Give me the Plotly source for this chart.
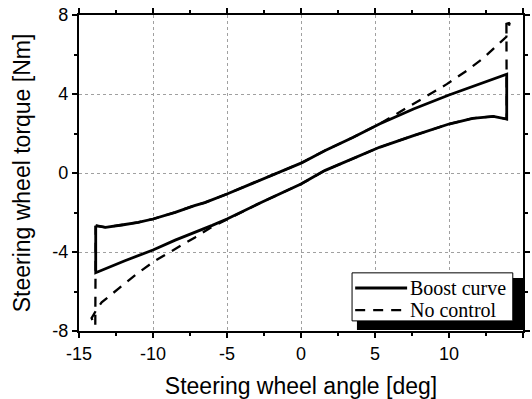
import plotly.graph_objects as go

# Boost curve hysteresis loop: upper branch (left -> right), then lower branch
boost_upper_x = [-13.87, -13.2, -12.0, -11.0, -10.0, -8.5, -7.2, -6.5, -5.0, -3.5,
                 -1.76, 0.0, 1.6, 3.5, 5.3, 7.6, 10.0, 12.1, 13.9]
boost_upper_y = [-2.67, -2.75, -2.62, -2.5, -2.33, -1.99, -1.65, -1.5, -1.06, -0.6,
                 -0.05, 0.5, 1.13, 1.8, 2.48, 3.24, 3.95, 4.5, 5.0]
boost_lower_x = [13.9, 13.0, 11.6, 10.0, 7.6, 5.3, 1.6, 0.0, -2.66, -5.0, -6.0,
                 -7.2, -8.5, -10.0, -11.9, -13.87]
boost_lower_y = [2.73, 2.87, 2.77, 2.48, 1.89, 1.3, 0.12, -0.56, -1.48, -2.33, -2.65,
                 -3.0, -3.4, -3.9, -4.44, -5.05]

# No control loop: shares the boost curve except near the end stops
nc_upper_x = [-13.87, -13.2, -12.0, -11.0, -10.0, -8.5, -7.2, -6.5, -5.0, -3.5,
              -1.76, 0.0, 1.6, 3.5, 5.3, 6.24, 7.36, 8.7, 9.85, 11.2, 12.3, 13.45,
              13.88, 13.88, 14.1, 14.0]
nc_upper_y = [-2.67, -2.75, -2.62, -2.5, -2.33, -1.99, -1.65, -1.5, -1.06, -0.6,
              -0.05, 0.5, 1.13, 1.8, 2.48, 2.9, 3.41, 4.0, 4.5, 5.18, 5.8, 6.6,
              6.9, 7.55, 7.6, 7.3]
nc_lower_x = [13.88, 13.9, 13.0, 11.6, 10.0, 7.6, 5.3, 1.6, 0.0, -2.66, -5.0,
              -6.0, -7.16, -8.74, -9.86, -11.1, -12.35, -13.47, -13.8, -14.15,
              -13.9, -13.87]
nc_lower_y = [7.55, 2.73, 2.87, 2.77, 2.48, 1.89, 1.3, 0.12, -0.56, -1.48, -2.33,
              -2.72, -3.26, -3.93, -4.44, -5.11, -5.87, -6.55, -6.9, -7.35,
              -7.75, -2.67]

x_ticks = [-15, -10, -5, 0, 5, 10, 15]
x_tick_labels = ["-15", "-10", "-5", "0", "5", "10", "15"]
y_ticks = [-8, -4, 0, 4, 8]
y_tick_labels = ["-8", "-4", "0", "4", "8"]

series_names = ["Boost curve", "No control"]
series_dash = ["solid", "10px,8px"]
series_width = [2.8, 2.3]

fig = go.Figure()

fig.add_trace(go.Scatter(
    x=boost_upper_x + boost_lower_x + [boost_upper_x[0]],
    y=boost_upper_y + boost_lower_y + [boost_upper_y[0]],
    mode="lines", name=series_names[0], showlegend=False,
    line=dict(color="black", width=series_width[0], dash=series_dash[0]),
))
fig.add_trace(go.Scatter(
    x=nc_upper_x + nc_lower_x,
    y=nc_upper_y + nc_lower_y,
    mode="lines", name=series_names[1], showlegend=False,
    line=dict(color="black", width=series_width[1], dash=series_dash[1]),
))

axis_common = dict(
    showline=True, linecolor="black", linewidth=2.2, mirror="ticks",
    ticks="outside", ticklen=5, tickwidth=1.5, tickcolor="black",
    showgrid=True, gridcolor="#a0a0a0", gridwidth=1, griddash="dot",
    zeroline=False, automargin=False,
    tickfont=dict(family="Liberation Sans, Arial", size=18, color="black"),
)

fig.update_xaxes(
    range=[-15, 15], tickvals=x_ticks, ticktext=x_tick_labels,
    minor=dict(dtick=2.5, ticks="outside", ticklen=3, tickcolor="black", showgrid=False),
    title=dict(text="Steering wheel angle [deg]", standoff=15,
               font=dict(family="Liberation Sans, Arial", size=23, color="black")),
    **axis_common,
)
fig.update_yaxes(
    range=[-8, 8], tickvals=y_ticks, ticktext=y_tick_labels,
    minor=dict(dtick=2, ticks="outside", ticklen=3, tickcolor="black", showgrid=False),
    title=dict(text="Steering wheel torque [Nm]", standoff=15,
               font=dict(family="Liberation Sans, Arial", size=23, color="black")),
    **axis_common,
)

# Legend box with drop shadow, drawn in the plot's paper coordinates
fig.add_shape(type="rect", xref="paper", yref="paper",
              x0=0.626, x1=1.002, y0=0.003, y1=0.168,
              fillcolor="black", line=dict(width=0), layer="above")
fig.add_shape(type="rect", xref="paper", yref="paper",
              x0=0.615, x1=0.977, y0=0.032, y1=0.184,
              fillcolor="white", line=dict(color="black", width=1), layer="above")
legend_rows_y = [0.136, 0.066]
for name, dash, width, yy in zip(series_names, series_dash, series_width, legend_rows_y):
    fig.add_shape(type="line", xref="paper", yref="paper",
                  x0=0.622, x1=0.739, y0=yy, y1=yy,
                  line=dict(color="black", width=width, dash=dash), layer="above")
    fig.add_annotation(x=0.741, y=yy, xref="paper", yref="paper",
                       text=name, showarrow=False, xanchor="left", yanchor="middle",
                       font=dict(family="Liberation Serif, Times New Roman", size=20,
                                 color="black"))

fig.update_layout(
    width=532, height=399,
    margin=dict(l=79, r=9, t=15, b=68),
    paper_bgcolor="white", plot_bgcolor="white",
    showlegend=False,
)

fig.write_html("out.html")
